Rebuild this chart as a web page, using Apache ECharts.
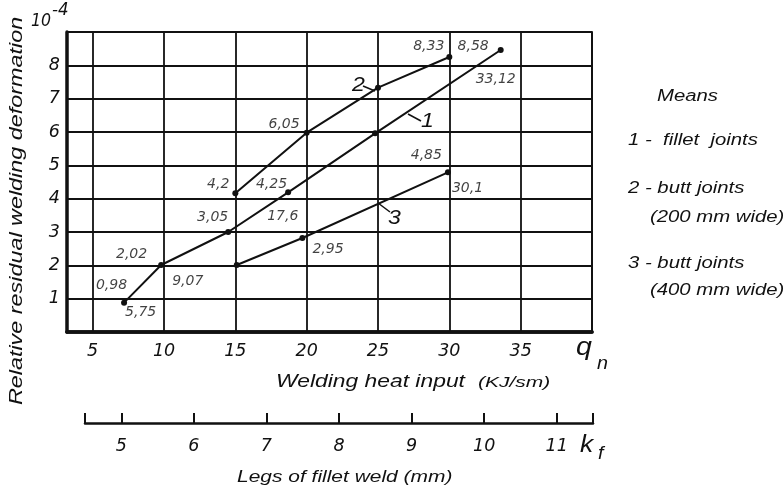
<!DOCTYPE html>
<html>
<head>
<meta charset="utf-8">
<script src="https://cdn.jsdelivr.net/npm/echarts@6/dist/echarts.min.js"></script>
<style>
  html, body {margin: 0; padding: 0; background: #fff;}
  #chart {width: 783px; height: 492px;}
</style>
</head>
<body>
<div id="chart"></div>
<script>
// axis ticks
var qTicks = [5, 10, 15, 20, 25, 30, 35];      // welding heat input, q_n
var kTicks = [5, 6, 7, 8, 9, 10, 11];          // legs of fillet weld, k_f

// curve 1 - fillet joints
var x1 = [7.2, 9.8, 14.5, 18.7, 24.8, 33.6];
var y1 = [0.88, 2.01, 3.0, 4.19, 5.96, 8.46];
var top1 = ['0,98', '2,02', '3,05', '4,25', '', '8,58'];
var bot1 = ['5,75', '9,07', '', '17,6', '', '33,12'];

// curve 2 - butt joints 200 mm
var x2 = [15.0, 20.0, 25.0, 30.0];
var y2 = [4.16, 5.98, 7.33, 8.25];
var top2 = ['4,2', '6,05', '', '8,33'];

// curve 3 - butt joints 400 mm
var x3 = [15.1, 19.7, 29.9];
var y3 = [2.01, 2.82, 4.79];
var top3 = ['', '', '4,85'];
var bot3 = ['', '2,95', '30,1'];

// label offsets from the point (pixels)
var topOff1 = [[3, -10], [-14, -4], [0, -8], [-1, -1], null, [-12, 3]];
var botOff1 = [[1, 3], [11, 9], null, [-21, 17], null, [-25, 22]];
var topOff2 = [[-6, -2], [-7, -1], null, [-5, -4]];
var topOff3 = [null, null, [-6, -10]];
var botOff3 = [null, [10, 4], [4, 9]];

var ink = '#111';
var tickFont = {fontFamily: 'DejaVu Sans', fontStyle: 'italic', fontSize: 17.5, color: ink};

function pts(xs, ys) {
    return xs.map(function (x, i) { return [x, ys[i]]; });
}

function curve(xs, ys) {
    return {
        type: 'line', xAxisIndex: 0, yAxisIndex: 0,
        data: pts(xs, ys),
        symbol: 'circle', symbolSize: 6,
        lineStyle: {width: 2, color: ink},
        itemStyle: {color: ink},
        silent: true, z: 4
    };
}

function labels(xs, ys, texts, offs, above) {
    var data = [];
    for (var i = 0; i < xs.length; i++) {
        if (!texts[i]) continue;
        data.push({
            value: [xs[i], ys[i]],
            label: {
                formatter: texts[i], position: offs[i],
                align: above ? 'right' : 'left',
                verticalAlign: above ? 'bottom' : 'top'
            }
        });
    }
    return {
        type: 'scatter', xAxisIndex: 0, yAxisIndex: 0,
        symbolSize: 0, itemStyle: {color: 'transparent'}, silent: true, z: 5,
        label: {show: true, fontFamily: 'DejaVu Sans', fontStyle: 'italic', fontSize: 14, color: ink},
        data: data
    };
}

// free text (the scan's font is wide, so stretch it)
function txt(x, y, s, size, align, sx, family) {
    return {
        type: 'text', x: x, y: y, scaleX: sx || 1.27, silent: true,
        style: {
            text: s, fill: ink,
            font: 'italic ' + size + 'px ' + (family || '"Liberation Sans", Arial, sans-serif'),
            align: align || 'left', verticalAlign: 'middle'
        }
    };
}
function seg(x1, y1, x2, y2) {
    return {type: 'line', silent: true, shape: {x1: x1, y1: y1, x2: x2, y2: y2}, style: {stroke: ink, lineWidth: 1.5}};
}

var myChart = echarts.init(document.getElementById('chart'));
myChart.setOption({
    animation: false,
    backgroundColor: '#fff',
    grid: [
        {left: 67, top: 32, width: 525, height: 300},
        {left: 85, top: 422, width: 508, height: 1}
    ],
    xAxis: [
        {
            type: 'value', gridIndex: 0, position: 'bottom', min: 3.2, max: 40,
            axisLine: {lineStyle: {width: 3.5, color: ink}},
            axisTick: {show: false, customValues: qTicks.concat([40])},
            axisLabel: Object.assign({customValues: qTicks, margin: 10}, tickFont),
            splitLine: {show: true, lineStyle: {width: 1.8, color: ink}}
        },
        {
            type: 'value', gridIndex: 0, position: 'top', min: 3.2, max: 40,
            axisLine: {show: true, lineStyle: {width: 3.5, color: ink}},
            axisTick: {show: false}, axisLabel: {show: false}, splitLine: {show: false}
        },
        {
            type: 'value', gridIndex: 1, position: 'bottom', min: 4.5, max: 11.5,
            axisLine: {lineStyle: {width: 2.5, color: ink}},
            axisTick: {inside: true, length: 10, lineStyle: {width: 2, color: ink},
                customValues: [4.5].concat(kTicks, [11.5])},
            axisLabel: Object.assign({customValues: kTicks, margin: 14}, tickFont),
            splitLine: {show: false}
        }
    ],
    yAxis: [
        {
            type: 'value', gridIndex: 0, min: 0, max: 9, interval: 1,
            axisLine: {show: true, lineStyle: {width: 3.5, color: ink}},
            axisTick: {show: false},
            axisLabel: Object.assign({
                margin: 7,
                formatter: function (v) { return (v > 0 && v < 9) ? String(v) : ''; }
            }, tickFont),
            splitLine: {show: true, lineStyle: {width: 1.8, color: ink}}
        },
        {
            type: 'value', gridIndex: 0, position: 'right', min: 0, max: 9,
            axisLine: {show: true, lineStyle: {width: 2, color: ink}},
            axisTick: {show: false}, axisLabel: {show: false}, splitLine: {show: false}
        },
        {type: 'value', gridIndex: 1, show: false, min: 0, max: 1}
    ],
    series: [
        curve(x1, y1), curve(x2, y2), curve(x3, y3),
        labels(x1, y1, top1, topOff1, true),
        labels(x1, y1, bot1, botOff1, false),
        labels(x2, y2, top2, topOff2, true),
        labels(x3, y3, top3, topOff3, true),
        labels(x3, y3, bot3, botOff3, false)
    ],
    graphic: [
        txt(31, 21, '10', 17.5, 'left', 0.9, 'DejaVu Sans'),
        txt(52, 10, '-4', 17.5, 'left', 0.95, 'DejaVu Sans'),
        {
            type: 'text', x: 17, y: 211, rotation: Math.PI / 2, scaleX: 1.25, silent: true,
            style: {text: 'Relative residual welding deformation', fill: ink,
                font: 'italic 18.7px "Liberation Sans", Arial, sans-serif', align: 'center', verticalAlign: 'middle'}
        },
        txt(576, 348, 'q', 26, 'left', 1.1),
        txt(597, 364, 'n', 18, 'left', 1.1),
        txt(276, 382, 'Welding heat input', 18),
        txt(478, 383, '(KJ/sm)', 15, 'left', 1.4),
        txt(580, 445, 'k', 24, 'left', 1.1),
        txt(598, 454, 'f', 18, 'left', 1.1),
        txt(237, 477, 'Legs of fillet weld (mm)', 16.5),
        // curve numbers with leader lines
        txt(352, 85, '2', 21, 'left', 1.1),
        seg(363, 86, 375, 91),
        txt(421, 121, '1', 21, 'left', 1.1),
        seg(408, 114, 421, 121),
        txt(388, 218, '3', 21, 'left', 1.1),
        seg(378, 203, 390, 212),
        // legend text
        txt(657, 97, 'Means', 16),
        txt(628, 141, '1 -  fillet  joints', 16),
        txt(628, 189, '2 - butt joints', 16),
        txt(650, 218, '(200 mm wide)', 16),
        txt(628, 264, '3 - butt joints', 16),
        txt(650, 291, '(400 mm wide)', 16)
    ]
});
</script>
</body>
</html>
